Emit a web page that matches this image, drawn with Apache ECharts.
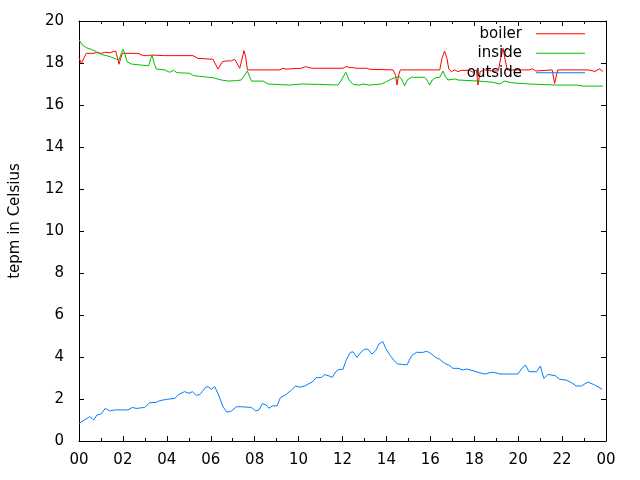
<!DOCTYPE html>
<html>
<head>
<meta charset="utf-8">
<script src="https://cdn.jsdelivr.net/npm/echarts@6/dist/echarts.min.js"></script>
<style>html,body{margin:0;padding:0;background:#fff}#c{width:640px;height:480px}</style>
</head>
<body>
<div id="c"></div>
<script>
// [hour, temperature] pairs
var boiler = [[0,18.25],[0.11,17.98],[0.18,17.95],[0.33,18.46],[0.41,18.49],[0.64,18.46],[0.79,18.49],[1.02,18.46],[1.17,18.51],[1.4,18.49],[1.47,18.54],[1.67,18.57],[1.78,18.14],[1.82,17.94],[1.9,18.22],[1.97,18.46],[2.69,18.46],[2.92,18.35],[3.17,18.35],[3.3,18.38],[3.9,18.35],[3.98,18.38],[4.13,18.35],[5.19,18.35],[5.42,18.22],[6.1,18.18],[6.33,17.71],[6.53,18.06],[6.71,18.1],[6.94,18.1],[7.09,18.18],[7.17,18.14],[7.32,17.75],[7.47,18.38],[7.51,18.59],[7.59,18.3],[7.67,17.67],[9.14,17.67],[9.29,17.75],[9.44,17.71],[10.13,17.75],[10.32,17.83],[10.47,17.78],[10.63,17.75],[12.02,17.75],[12.17,17.83],[12.33,17.78],[12.4,17.83],[12.48,17.78],[12.55,17.83],[12.63,17.75],[13.09,17.75],[13.24,17.7],[14.3,17.67],[14.42,17.4],[14.48,16.95],[14.56,17.43],[14.63,17.67],[16.43,17.67],[16.53,18.22],[16.65,18.57],[16.76,18.22],[16.84,17.71],[16.96,17.59],[17.11,17.67],[17.26,17.59],[17.41,17.65],[17.79,17.65],[17.94,17.56],[18.1,17.67],[18.17,16.95],[18.27,17.59],[18.48,17.67],[18.8,17.62],[19.1,17.62],[19.2,18.2],[19.31,18.7],[19.4,18.2],[19.5,17.67],[20.5,17.67],[20.65,17.72],[20.8,17.62],[21.55,17.67],[21.66,17.03],[21.8,17.67],[23.2,17.67],[23.5,17.6],[23.7,17.72],[23.86,17.6]];

var inside = [[0,19.1],[0.15,18.86],[0.33,18.73],[0.56,18.65],[0.79,18.54],[1.02,18.41],[1.32,18.33],[1.55,18.25],[1.7,18.18],[1.82,18.14],[1.93,18.46],[2.0,18.65],[2.08,18.46],[2.19,18.06],[2.39,17.95],[2.84,17.9],[3.17,17.86],[3.27,18.22],[3.33,18.38],[3.4,18.06],[3.52,17.71],[3.9,17.67],[4.13,17.56],[4.31,17.65],[4.46,17.54],[5.04,17.51],[5.22,17.4],[5.65,17.35],[6.1,17.3],[6.48,17.19],[6.79,17.14],[7.17,17.16],[7.39,17.19],[7.55,17.43],[7.67,17.62],[7.85,17.14],[8.38,17.14],[8.61,17.0],[9.6,16.95],[10.13,17.0],[10.95,16.98],[11.8,16.95],[11.95,17.19],[12.15,17.56],[12.3,17.19],[12.48,16.98],[12.78,16.95],[12.93,17.0],[13.24,16.95],[13.77,17.0],[14.0,17.11],[14.23,17.24],[14.45,17.32],[14.6,17.35],[14.71,17.19],[14.83,16.92],[14.95,17.19],[15.14,17.32],[15.74,17.32],[15.85,17.19],[15.97,16.95],[16.09,17.19],[16.24,17.3],[16.43,17.32],[16.58,17.62],[16.65,17.43],[16.8,17.19],[17.11,17.24],[17.26,17.19],[18.17,17.14],[18.85,17.08],[19.16,17.0],[19.38,17.14],[19.69,17.06],[20.52,17.0],[21.74,16.95],[22.65,16.95],[22.95,16.9],[23.86,16.9]];

var outside = [[0,0.84],[0.49,1.16],[0.67,1.0],[0.82,1.24],[1.02,1.29],[1.2,1.56],[1.4,1.43],[1.63,1.48],[2.23,1.48],[2.43,1.6],[2.61,1.55],[2.99,1.6],[3.22,1.82],[3.52,1.84],[3.67,1.92],[3.98,1.98],[4.36,2.03],[4.55,2.22],[4.81,2.35],[5.01,2.27],[5.16,2.35],[5.35,2.16],[5.53,2.24],[5.77,2.56],[5.87,2.59],[6.03,2.46],[6.18,2.59],[6.36,2.19],[6.56,1.63],[6.74,1.37],[6.94,1.43],[7.17,1.63],[7.39,1.63],[7.85,1.6],[8.05,1.43],[8.2,1.48],[8.35,1.79],[8.53,1.71],[8.65,1.56],[8.8,1.67],[9.02,1.67],[9.17,2.06],[9.44,2.22],[9.67,2.43],[9.87,2.62],[10.05,2.56],[10.28,2.62],[10.43,2.71],[10.63,2.81],[10.81,3.02],[11.04,3.02],[11.19,3.16],[11.38,3.1],[11.54,3.03],[11.69,3.3],[11.84,3.41],[12.02,3.41],[12.17,3.86],[12.36,4.22],[12.48,4.25],[12.66,3.98],[12.86,4.25],[13.01,4.37],[13.16,4.37],[13.34,4.14],[13.51,4.3],[13.66,4.62],[13.84,4.73],[13.97,4.41],[14.15,4.1],[14.33,3.86],[14.5,3.67],[14.73,3.65],[14.94,3.62],[15.14,4.05],[15.36,4.22],[15.66,4.22],[15.82,4.27],[15.97,4.21],[16.24,3.98],[16.43,3.89],[16.65,3.7],[16.88,3.59],[17.03,3.46],[17.26,3.46],[17.49,3.38],[17.64,3.43],[17.94,3.35],[18.17,3.27],[18.48,3.19],[18.78,3.27],[18.98,3.25],[19.16,3.19],[19.99,3.19],[20.15,3.43],[20.33,3.62],[20.49,3.3],[20.83,3.3],[21.01,3.57],[21.17,2.98],[21.36,3.17],[21.69,3.11],[21.89,2.94],[22.19,2.9],[22.42,2.78],[22.65,2.62],[22.88,2.62],[23.18,2.81],[23.48,2.67],[23.83,2.46]];

var seriesNames = ['boiler', 'inside', 'outside'];
var seriesColors = ['#ff0000', '#00c000', '#0080ff'];
var yTitle = 'tepm in Celsius';

var FONT = 'DejaVu Sans';
var chart = echarts.init(document.getElementById('c'), null, {renderer: 'canvas'});

function xAxisCfg(pos, showLabel) {
  return {
    type: 'value', position: pos, min: 0, max: 24, interval: 2,
    axisLine: {show: true, onZero: false, lineStyle: {color: '#000', width: 1}},
    axisTick: {show: true, inside: true, length: 5, lineStyle: {color: '#000'}},
    minorTick: {show: true, splitNumber: 2, length: 3, lineStyle: {color: '#000'}},
    splitLine: {show: false}, minorSplitLine: {show: false},
    axisLabel: {show: showLabel, margin: 12, color: '#000', fontFamily: FONT, fontSize: 15,
      formatter: function (v) { var h = Math.round(v) % 24; return (h < 10 ? '0' : '') + h; }}
  };
}
function yAxisCfg(pos, showLabel) {
  var c = {
    type: 'value', position: pos, min: 0, max: 20, interval: 2,
    axisLine: {show: true, onZero: false, lineStyle: {color: '#000', width: 1}},
    axisTick: {show: true, inside: true, length: 5, lineStyle: {color: '#000'}},
    splitLine: {show: false},
    axisLabel: {show: showLabel, margin: 15, color: '#000', fontFamily: FONT, fontSize: 15}
  };
  if (showLabel) {
    c.name = yTitle; c.nameLocation = 'middle'; c.nameGap = 56; c.nameRotate = 90;
    c.nameTextStyle = {color: '#000', fontFamily: FONT, fontSize: 15, padding: [0, 0, 0, 20]};
  }
  return c;
}

var data = [boiler, inside, outside];
var series = seriesNames.map(function (n, i) {
  return {
    name: n, type: 'line', data: data[i], xAxisIndex: 0, yAxisIndex: 0,
    showSymbol: false, symbol: 'none', animation: false,
    lineStyle: {color: seriesColors[i], width: 1}, itemStyle: {color: seriesColors[i]}
  };
});

chart.setOption({
  animation: false,
  backgroundColor: '#fff',
  grid: {left: 79, right: 34, top: 21, bottom: 39, containLabel: false, outerBoundsMode: 'none'},
  legend: {
    orient: 'vertical', right: 55, top: 24, padding: 0, itemGap: 0,
    align: 'right', icon: 'rect', itemWidth: 49, itemHeight: 1,
    data: seriesNames,
    textStyle: {color: '#000', fontFamily: FONT, fontSize: 15, lineHeight: 19.5, padding: [0, 9, 0, 0]}
  },
  xAxis: [xAxisCfg('bottom', true), xAxisCfg('top', false)],
  yAxis: [yAxisCfg('left', true), yAxisCfg('right', false)],
  series: series
});
</script>
</body>
</html>
